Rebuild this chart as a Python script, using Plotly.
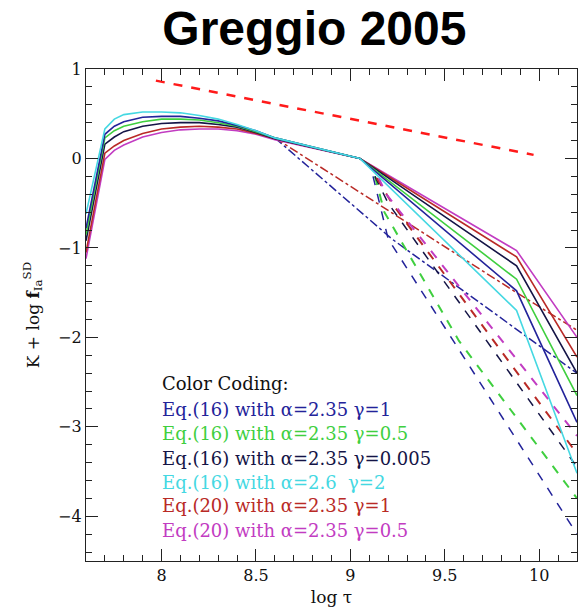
import plotly.graph_objects as go

# ---------------- data ----------------
x_early = [7.6, 7.7, 7.75, 7.8, 7.9, 8.0, 8.1, 8.2, 8.3, 8.4, 8.5, 8.6, 9.05, 9.88, 10.2]

solid_cyan    = [-0.62, 0.33, 0.44, 0.49, 0.52, 0.52, 0.51, 0.48, 0.44, 0.38, 0.31, 0.23, 0.0, -1.70, -3.52]
solid_navy    = [-0.78, 0.27, 0.36, 0.41, 0.46, 0.47, 0.47, 0.45, 0.42, 0.37, 0.31, 0.23, 0.0, -1.48, -2.95]
solid_green   = [-0.85, 0.23, 0.31, 0.36, 0.41, 0.44, 0.44, 0.43, 0.40, 0.36, 0.30, 0.23, 0.0, -1.35, -2.65]
solid_dark    = [-0.92, 0.16, 0.24, 0.30, 0.36, 0.39, 0.40, 0.40, 0.38, 0.35, 0.29, 0.22, 0.0, -1.20, -2.40]
solid_red     = [-1.05, 0.06, 0.14, 0.20, 0.28, 0.33, 0.35, 0.36, 0.35, 0.33, 0.28, 0.22, 0.0, -1.10, -2.22]
solid_magenta = [-1.12, -0.01, 0.09, 0.15, 0.24, 0.29, 0.32, 0.33, 0.33, 0.31, 0.27, 0.21, 0.0, -1.03, -2.00]

dashdot_navy_x = [8.6, 9.22, 10.2]
dashdot_navy_y = [0.23, -0.90, -2.40]
dashdot_red_x = [8.6, 9.88, 10.2]
dashdot_red_y = [0.23, -1.50, -1.92]

dashed_navy_x = [9.12, 9.2, 10.2]
dashed_navy_y = [-0.20, -0.90, -4.20]
dashed_green_x = [9.13, 9.18, 9.575, 10.2]
dashed_green_y = [-0.20, -0.60, -2.04, -3.80]
dashed_dark_x = [9.13, 9.2, 10.2]
dashed_dark_y = [-0.20, -0.50, -3.45]
dashed_red_x = [9.14, 9.22, 10.2]
dashed_red_y = [-0.22, -0.50, -3.30]
dashed_magenta_x = [9.15, 9.19, 10.2]
dashed_magenta_y = [-0.22, -0.40, -3.10]

ref_x = [7.97, 9.97]
ref_y = [0.87, 0.04]

legend_title = "Color Coding:"
legend_lines = [
    "Eq.(16) with \u03b1=2.35 \u03b3=1",
    "Eq.(16) with \u03b1=2.35 \u03b3=0.5",
    "Eq.(16) with \u03b1=2.35 \u03b3=0.005",
    "Eq.(16) with \u03b1=2.6\u00a0\u00a0\u03b3=2",
    "Eq.(20) with \u03b1=2.35 \u03b3=1",
    "Eq.(20) with \u03b1=2.35 \u03b3=0.5",
]

C_NAVY = "#23239a"
C_GREEN = "#3fcf3f"
C_DARK = "#141446"
C_CYAN = "#45d8e2"
C_RED = "#b92a26"
C_MAG = "#c23cc2"
legend_colors = [C_NAVY, C_GREEN, C_DARK, C_CYAN, C_RED, C_MAG]

fig = go.Figure()

def add(x, y, color, dash="solid", width=1.5):
    fig.add_trace(go.Scatter(x=x, y=y, mode="lines",
                             line=dict(color=color, dash=dash, width=width),
                             showlegend=False, hoverinfo="skip"))

# dashed and dash-dot first
add(dashdot_navy_x, dashdot_navy_y, C_NAVY, "dashdot")
add(dashdot_red_x, dashdot_red_y, C_RED, "dashdot")
add(dashed_navy_x, dashed_navy_y, C_NAVY, "dash")
add(dashed_green_x, dashed_green_y, C_GREEN, "dash", 2)
add(dashed_dark_x, dashed_dark_y, C_DARK, "dash")
add(dashed_red_x, dashed_red_y, C_RED, "dash", 2)
add(dashed_magenta_x, dashed_magenta_y, C_MAG, "dash", 2)

for ys, c in [(solid_magenta, C_MAG), (solid_red, C_RED), (solid_dark, C_DARK),
              (solid_green, C_GREEN), (solid_navy, C_NAVY), (solid_cyan, C_CYAN)]:
    add(x_early, ys, c, "solid", 1.6)

add(ref_x, ref_y, "#ff1a1a", "dash", 2.5)

serif = "DejaVu Serif"
fig.add_annotation(x=0.150, y=0.361, xref="paper", yref="paper", text=legend_title,
                   showarrow=False, xanchor="left", yanchor="middle",
                   font=dict(family=serif, size=18, color="#111111"))
leg_y = [0.308, 0.260, 0.209, 0.160, 0.112, 0.063]
for t, c, yy in zip(legend_lines, legend_colors, leg_y):
    fig.add_annotation(x=0.150, y=yy, xref="paper", yref="paper", text=t,
                       showarrow=False, xanchor="left", yanchor="middle",
                       font=dict(family=serif, size=18, color=c))

axis_common = dict(showline=True, linecolor="#222222", linewidth=1.3, mirror="allticks",
                   ticks="inside", ticklen=12, tickwidth=1, tickcolor="#222222",
                   showgrid=False, zeroline=False,
                   tickfont=dict(family=serif, size=16, color="#111111"))

fig.update_xaxes(range=[7.6, 10.2], tickvals=[8, 8.5, 9, 9.5, 10],
                 ticktext=["8", "8.5", "9", "9.5", "10"],
                 minor=dict(ticks="inside", ticklen=6, dtick=0.1, tickcolor="#222222", showgrid=False),
                 title=dict(text="log \u03c4", font=dict(family=serif, size=17, color="#111111"), standoff=6),
                 **axis_common)
fig.update_yaxes(range=[-4.5, 1], tickvals=[-4, -3, -2, -1, 0, 1],
                 ticktext=["\u22124", "\u22123", "\u22122", "\u22121", "0", "1"],
                 minor=dict(ticks="inside", ticklen=6, dtick=0.2, tickcolor="#222222", showgrid=False),
                 title=dict(text="K + log <b>f</b><sub>Ia</sub><sup>SD</sup>",
                            font=dict(family=serif, size=17, color="#111111"), standoff=14),
                 **axis_common)

fig.update_layout(
    width=579, height=612,
    margin=dict(l=86, r=2, t=69, b=51),
    plot_bgcolor="white", paper_bgcolor="white",
    title=dict(text="<b>Greggio 2005</b>", x=0.543, xanchor="center",
               y=0.954, yanchor="middle", xref="container", yref="container",
               font=dict(family="Liberation Sans", size=48, color="#000000")),
)

fig.write_html("out.html")
